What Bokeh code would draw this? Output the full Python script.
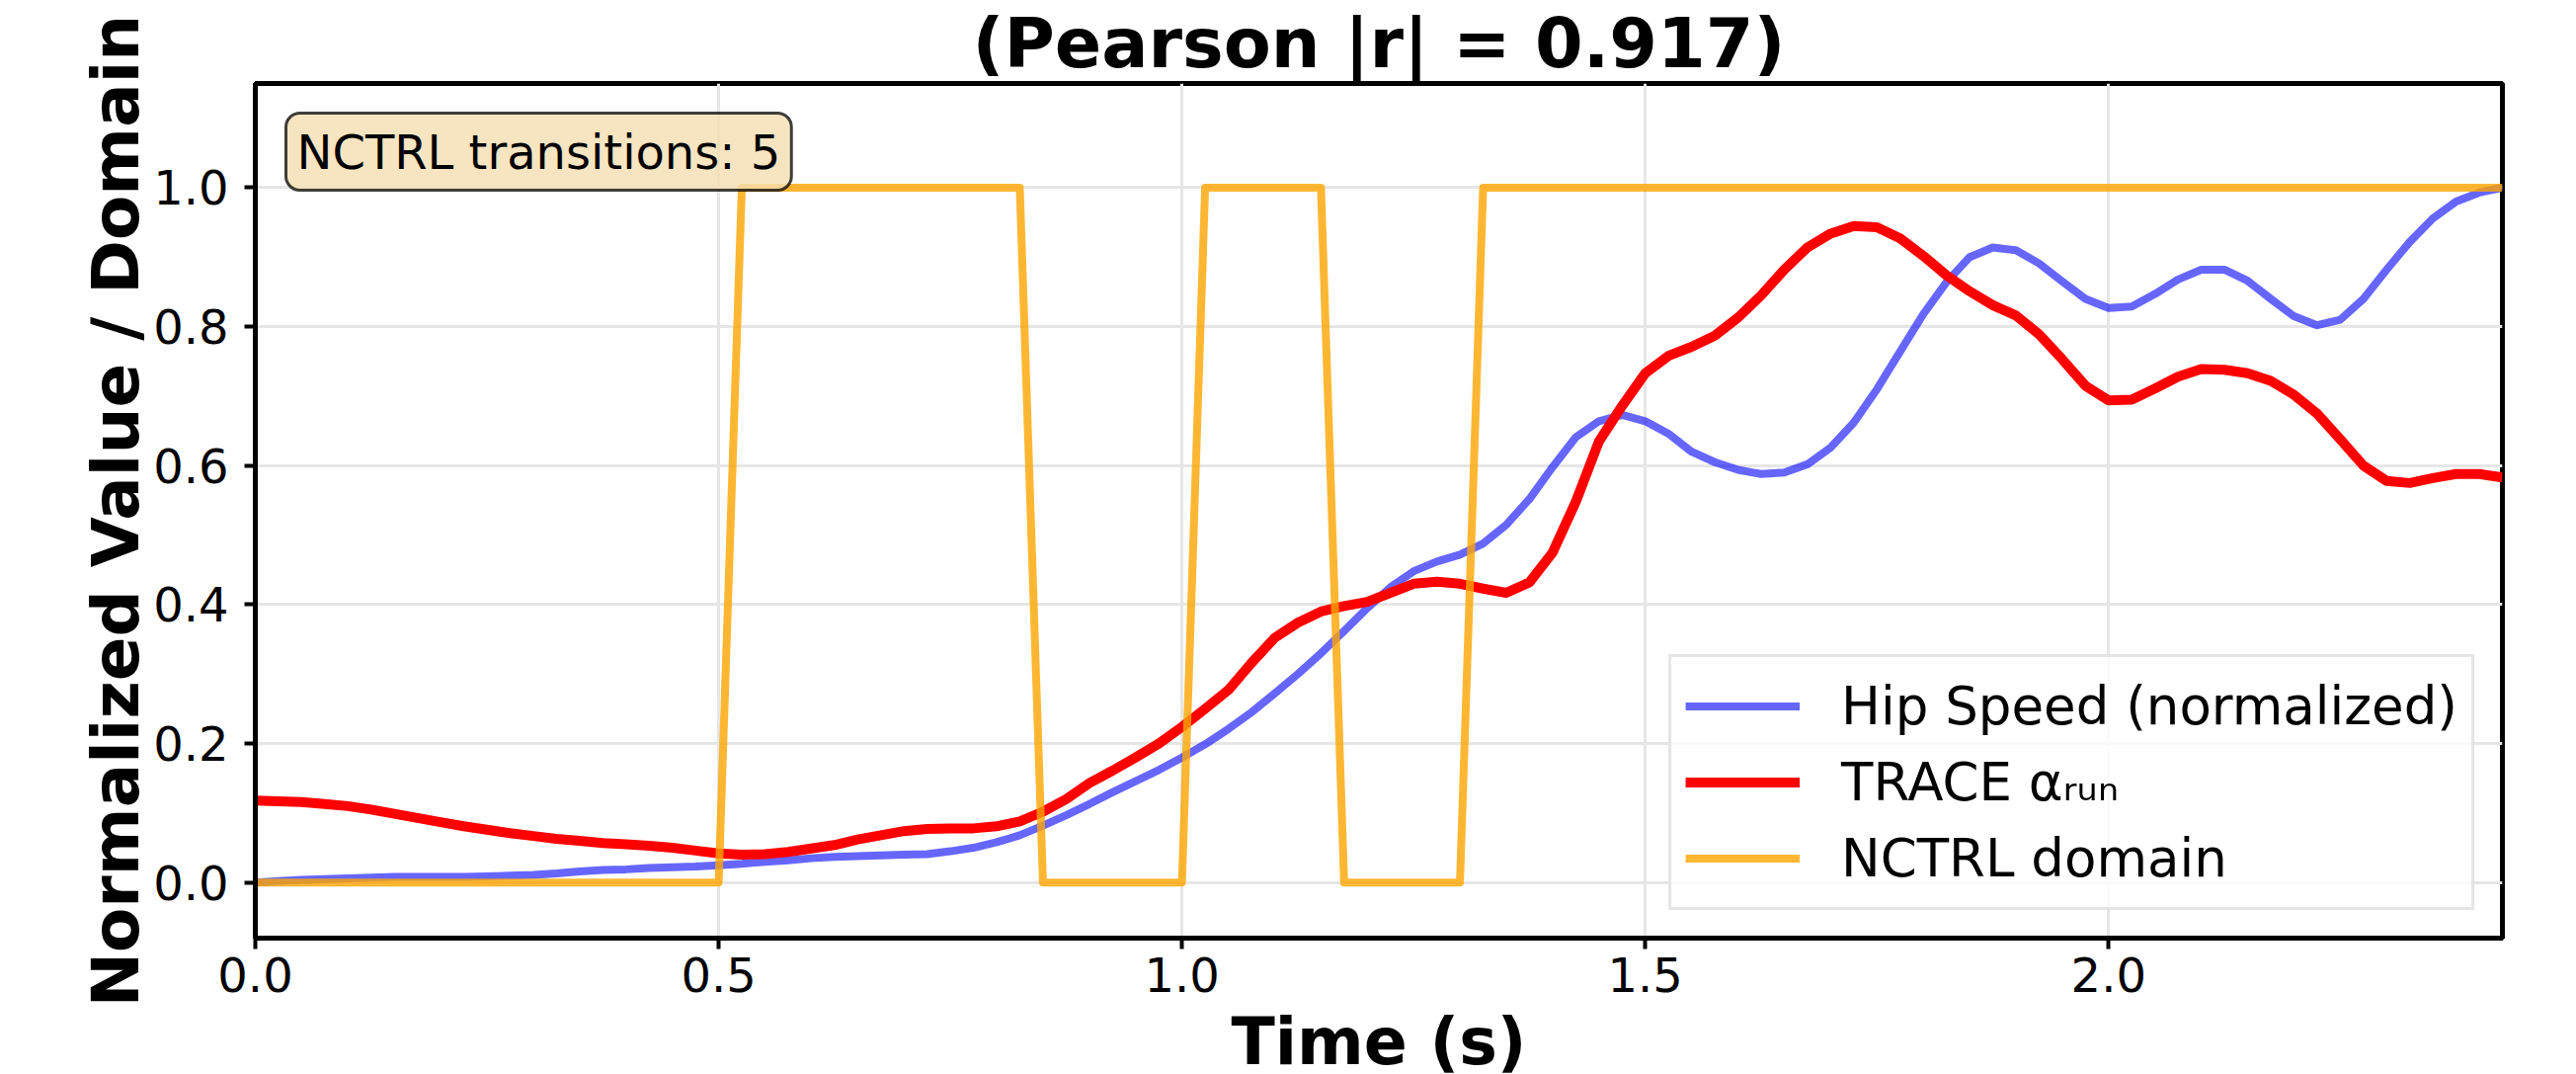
from bokeh.plotting import figure
from bokeh.models import (Range1d, FixedTicker, PrintfTickFormatter, Legend, LegendItem, Label)
from bokeh.embed import file_html
from bokeh.resources import INLINE

# ---- data (sampled every 0.025 s) ----
n_samples = 98
time_s = [round(k * 0.025, 3) for k in range(n_samples)]

hip_speed = [
    0.000, 0.002, 0.004, 0.005, 0.006, 0.007, 0.008, 0.008, 0.008, 0.008,
    0.009, 0.010, 0.011, 0.013, 0.016, 0.018, 0.019, 0.021, 0.022, 0.023,
    0.025, 0.027, 0.030, 0.032, 0.035, 0.037, 0.038, 0.039, 0.040, 0.041,
    0.045, 0.050, 0.058, 0.068, 0.082, 0.097, 0.113, 0.130, 0.146, 0.162,
    0.180, 0.199, 0.221, 0.245, 0.272, 0.300, 0.330, 0.362, 0.395, 0.425,
    0.448, 0.462, 0.472, 0.488, 0.515, 0.552, 0.598, 0.641, 0.664, 0.673,
    0.664, 0.646, 0.620, 0.605, 0.594, 0.588, 0.590, 0.602, 0.626, 0.662,
    0.710, 0.764, 0.818, 0.864, 0.900, 0.914, 0.910, 0.891, 0.865, 0.840,
    0.827, 0.829, 0.847, 0.868, 0.882, 0.882, 0.866, 0.840, 0.815, 0.802,
    0.810, 0.840, 0.882, 0.922, 0.956, 0.980, 0.993, 1.000,
]

trace_alpha_run = [
    0.118, 0.117, 0.116, 0.113, 0.110, 0.105, 0.099, 0.093, 0.087, 0.081,
    0.076, 0.071, 0.067, 0.063, 0.060, 0.057, 0.055, 0.053, 0.050, 0.046,
    0.042, 0.040, 0.041, 0.044, 0.049, 0.054, 0.062, 0.068, 0.074, 0.077,
    0.078, 0.078, 0.081, 0.088, 0.102, 0.120, 0.143, 0.161, 0.180, 0.200,
    0.224, 0.250, 0.277, 0.316, 0.352, 0.374, 0.390, 0.398, 0.404, 0.417,
    0.430, 0.433, 0.430, 0.423, 0.417, 0.432, 0.475, 0.548, 0.635, 0.686,
    0.733, 0.758, 0.771, 0.787, 0.813, 0.845, 0.882, 0.914, 0.934, 0.945,
    0.943, 0.927, 0.902, 0.874, 0.851, 0.831, 0.816, 0.789, 0.753, 0.715,
    0.694, 0.695, 0.711, 0.728, 0.739, 0.738, 0.733, 0.722, 0.702, 0.675,
    0.638, 0.600, 0.578, 0.575, 0.582, 0.588, 0.588, 0.583,
]

nctrl_domain = [
    0, 0, 0, 0, 0, 0, 0, 0, 0, 0,
    0, 0, 0, 0, 0, 0, 0, 0, 0, 0,
    0, 1, 1, 1, 1, 1, 1, 1, 1, 1,
    1, 1, 1, 1, 0, 0, 0, 0, 0, 0,
    0, 1, 1, 1, 1, 1, 1, 0, 0, 0,
    0, 0, 0, 1, 1, 1, 1, 1, 1, 1,
    1, 1, 1, 1, 1, 1, 1, 1, 1, 1,
    1, 1, 1, 1, 1, 1, 1, 1, 1, 1,
    1, 1, 1, 1, 1, 1, 1, 1, 1, 1,
    1, 1, 1, 1, 1, 1, 1, 1,
]

x_ticks = [0.0, 0.5, 1.0, 1.5, 2.0]
y_ticks = [0.0, 0.2, 0.4, 0.6, 0.8, 1.0]
title_text = "(Pearson |r| = 0.917)"
x_label = "Time (s)"
y_label = "Normalized Value / Domain"
legend_labels = ["Hip Speed (normalized)", "TRACE \u03b1\u1d63\u1d64\u2099", "NCTRL domain"]
transitions_text = "NCTRL transitions: 5"

FONT = "DejaVu Sans"

p = figure(
    frame_width=2275, frame_height=865,
    x_range=Range1d(0, time_s[-1]), y_range=Range1d(-0.08, 1.15),
    output_backend="svg", toolbar_location=None,
    min_border_left=258, min_border_right=70, min_border_top=83, min_border_bottom=130,
)
p.background_fill_color = "white"
p.border_fill_color = "white"
p.outline_line_color = "black"
p.outline_line_width = 5

p.title.text = title_text
p.title.align = "center"
p.title.text_font = FONT
p.title.text_font_size = "70px"
p.title.text_font_style = "bold"
p.title.text_color = "black"
p.title.standoff = 0

r_hip = p.line(time_s, hip_speed, line_color="blue", line_alpha=0.6, line_width=8, line_join="round")
r_trace = p.line(time_s, trace_alpha_run, line_color="red", line_width=10, line_join="round")
r_dom = p.line(time_s, nctrl_domain, line_color="orange", line_alpha=0.8, line_width=8, line_join="round")

for ax in (p.xaxis[0], p.yaxis[0]):
    ax.axis_line_width = 5
    ax.axis_line_color = "black"
    ax.major_tick_line_width = 4
    ax.major_tick_out = 11
    ax.major_tick_in = 0
    ax.minor_tick_line_color = None
    ax.major_label_text_font = FONT
    ax.major_label_text_font_size = "48px"
    ax.major_label_text_color = "black"
    ax.axis_label_text_font = FONT
    ax.axis_label_text_font_style = "bold"
    ax.axis_label_text_color = "black"
    ax.formatter = PrintfTickFormatter(format="%.1f")

p.xaxis.ticker = FixedTicker(ticks=x_ticks)
p.yaxis.ticker = FixedTicker(ticks=y_ticks)
p.xaxis.axis_label = x_label
p.yaxis.axis_label = y_label
p.xaxis.axis_label_text_font_size = "65px"
p.yaxis.axis_label_text_font_size = "66px"
p.xaxis.major_label_standoff = 8
p.yaxis.major_label_standoff = 16
p.xaxis.axis_label_standoff = 10
p.yaxis.axis_label_standoff = -4

p.xgrid.grid_line_color = "#e6e6e6"
p.ygrid.grid_line_color = "#e6e6e6"
p.xgrid.grid_line_width = 3
p.ygrid.grid_line_width = 3

# annotation box
p.add_layout(Label(
    x=0, y=1.15, x_offset=31, y_offset=-30, text=transitions_text,
    text_align="left", text_baseline="top",
    text_font=FONT, text_font_size="48px", text_color="black",
    background_fill_color="#f5deb3", background_fill_alpha=0.8,
    border_line_color="black", border_line_alpha=0.75, border_line_width=3,
    padding=11, border_radius=14,
))

legend = Legend(items=[
    LegendItem(label=legend_labels[0], renderers=[r_hip]),
    LegendItem(label=legend_labels[1], renderers=[r_trace]),
    LegendItem(label=legend_labels[2], renderers=[r_dom]),
], location="bottom_right")
legend.margin = 28
legend.padding = 14
legend.spacing = 6
legend.glyph_width = 116
legend.glyph_height = 71
legend.label_height = 71
legend.label_standoff = 42
legend.label_text_font = FONT
legend.label_text_font_size = "53px"
legend.label_text_color = "black"
legend.border_line_color = "#cccccc"
legend.border_line_width = 3
legend.background_fill_color = "white"
legend.background_fill_alpha = 0.8
p.add_layout(legend)

open("out.html", "w").write(file_html(p, INLINE))
